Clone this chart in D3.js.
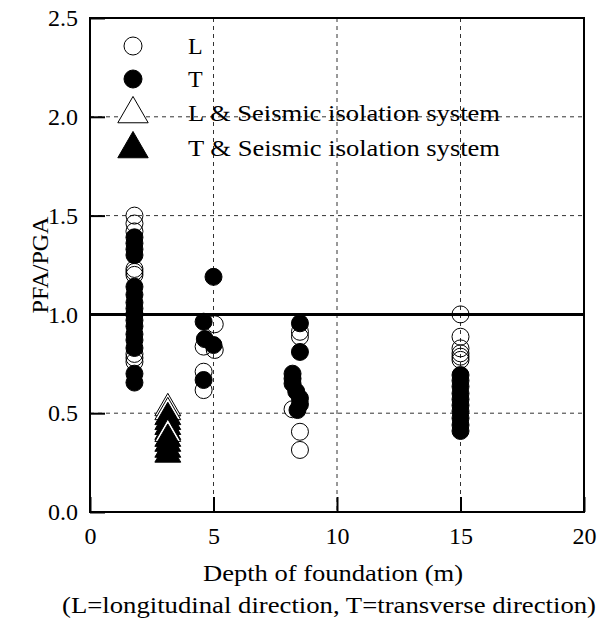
<!DOCTYPE html>
<html>
<head>
<meta charset="utf-8">
<script src="https://cdn.jsdelivr.net/npm/d3@7"></script>
<style>
  html, body { margin: 0; padding: 0; background: #fff; }
  text { font-family: "Liberation Serif", "Times New Roman", serif; fill: #000; }
</style>
</head>
<body>
<svg id="chart" width="600" height="622"></svg>
<script>
// Depth of foundation (m) vs PFA/PGA ratio
const xTicks = [0, 5, 10, 15, 20];
const yTicks = [0.0, 0.5, 1.0, 1.5, 2.0, 2.5];

// L = longitudinal direction (open circles)
const seriesL = [
  [1.8, 1.50], [1.8, 1.46], [1.8, 1.42], [1.8, 1.23], [1.8, 1.215], [1.8, 1.20],
  [1.8, 1.00], [1.8, 0.80], [1.8, 0.78], [1.8, 0.76],
  [5.05, 0.95], [4.6, 0.837], [5.05, 0.82], [4.6, 0.71], [4.6, 0.617],
  [8.5, 0.912], [8.5, 0.887], [8.2, 0.52], [8.5, 0.406], [8.5, 0.314],
  [15.0, 1.00], [15.0, 0.887], [15.0, 0.828], [15.0, 0.803], [15.0, 0.786], [15.0, 0.77]
];
// T = transverse direction (filled circles)
const seriesT = [
  [1.8, 1.39], [1.8, 1.36], [1.8, 1.33], [1.8, 1.30], [1.8, 1.14], [1.8, 1.10],
  [1.8, 1.06], [1.8, 1.03], [1.8, 1.00], [1.8, 0.97], [1.8, 0.94], [1.8, 0.90],
  [1.8, 0.87], [1.8, 0.83], [1.8, 0.70], [1.8, 0.655],
  [5.0, 1.19], [4.6, 0.963], [4.65, 0.875], [5.0, 0.845], [4.6, 0.668],
  [8.5, 0.955], [8.5, 0.81], [8.2, 0.70], [8.2, 0.675], [8.2, 0.65], [8.35, 0.61],
  [8.5, 0.575], [8.5, 0.545], [8.4, 0.516],
  [15.0, 0.693], [15.0, 0.665], [15.0, 0.635], [15.0, 0.60], [15.0, 0.57], [15.0, 0.54],
  [15.0, 0.51], [15.0, 0.475], [15.0, 0.44], [15.0, 0.41]
];
// Seismic isolation system (triangles)
const seriesLIso = [[3.15, 0.525], [3.15, 0.505], [3.15, 0.395]];
const seriesTIso = [[3.15, 0.48], [3.15, 0.455], [3.15, 0.43], [3.15, 0.405],
                    [3.15, 0.37], [3.15, 0.345], [3.15, 0.315], [3.15, 0.29]];

const legendItems = [
  { label: "L", kind: "circle", filled: false },
  { label: "T", kind: "circle", filled: true },
  { label: "L & Seismic isolation system", kind: "triangle", filled: false },
  { label: "T & Seismic isolation system", kind: "triangle", filled: true }
];

const svg = d3.select("#chart");
const m = { left: 90, right: 584, top: 18, bottom: 512 };

const x = d3.scaleLinear().domain([0, 20]).range([m.left, m.right]);
const y = d3.scaleLinear().domain([0, 2.5]).range([m.bottom, m.top]);

// dashed grid
const grid = svg.append("g").attr("stroke", "#333").attr("stroke-width", 1).attr("stroke-dasharray", "4,4");
[5, 10, 15].forEach(v => grid.append("line")
  .attr("x1", x(v)).attr("x2", x(v)).attr("y1", m.top).attr("y2", m.bottom));
[0.5, 1.5, 2.0].forEach(v => grid.append("line")
  .attr("x1", m.left).attr("x2", m.right).attr("y1", y(v)).attr("y2", y(v)));

// reference line at PFA/PGA = 1.0
svg.append("line")
  .attr("x1", m.left).attr("x2", m.right).attr("y1", y(1.0)).attr("y2", y(1.0))
  .attr("stroke", "#000").attr("stroke-width", 3);

// axes with inward ticks
const xAxis = d3.axisBottom(x).tickValues(xTicks).tickSize(-15).tickPadding(17).tickFormat(d3.format("d"));
const yAxis = d3.axisLeft(y).tickValues(yTicks).tickSize(-15).tickPadding(12).tickFormat(d3.format(".1f"));

const gx = svg.append("g").attr("transform", `translate(0,${m.bottom})`).call(xAxis);
const gy = svg.append("g").attr("transform", `translate(${m.left},0)`).call(yAxis);
[gx, gy].forEach(g => {
  g.select(".domain").remove();
  g.selectAll(".tick line").attr("stroke", "#000").attr("stroke-width", 2);
  g.selectAll(".tick text").style("font-family", "Liberation Serif, serif").style("font-size", "24px");
});
gx.selectAll(".tick text").attr("y", 15).attr("dy", "0.71em");

// frame
svg.append("rect")
  .attr("x", m.left).attr("y", m.top)
  .attr("width", m.right - m.left).attr("height", m.bottom - m.top)
  .attr("fill", "none").attr("stroke", "#000").attr("stroke-width", 2);

const r = 8.5;
const tri = d3.symbol().type(d3.symbolTriangle).size(290);

// triangles (isolation system)
const triData = seriesLIso.map(d => ({ d, filled: false }))
  .concat(seriesTIso.map(d => ({ d, filled: true })))
  .sort((a, b) => b.d[1] - a.d[1]);
svg.append("g").selectAll("path").data(triData).join("path")
  .attr("d", tri)
  .attr("transform", p => `translate(${x(p.d[0])},${y(p.d[1])})`)
  .attr("fill", p => p.filled ? "#000" : "#fff")
  .attr("stroke", "#000").attr("stroke-width", 1);

// open circles (L)
svg.append("g").selectAll("circle").data(seriesL).join("circle")
  .attr("cx", d => x(d[0])).attr("cy", d => y(d[1])).attr("r", r)
  .attr("fill", "none").attr("stroke", "#000").attr("stroke-width", 1);

// filled circles (T)
svg.append("g").selectAll("circle").data(seriesT).join("circle")
  .attr("cx", d => x(d[0])).attr("cy", d => y(d[1])).attr("r", r)
  .attr("fill", "#000").attr("stroke", "#000").attr("stroke-width", 1);

// legend
const legendY = [46, 79, 113, 148];
const lg = svg.append("g");
legendItems.forEach((it, i) => {
  const cy = legendY[i];
  if (it.kind === "circle") {
    lg.append("circle").attr("cx", 133).attr("cy", cy).attr("r", 9)
      .attr("fill", it.filled ? "#000" : "#fff").attr("stroke", "#000").attr("stroke-width", 1);
  } else {
    lg.append("path").attr("d", d3.symbol().type(d3.symbolTriangle).size(400)())
      .attr("transform", `translate(133,${cy + 1})`)
      .attr("fill", it.filled ? "#000" : "#fff").attr("stroke", "#000").attr("stroke-width", 1);
  }
  const t = lg.append("text").attr("x", 188).attr("y", cy).attr("dy", "0.35em")
    .style("font-size", "24px").text(it.label);
  if (it.label.length > 2) t.attr("textLength", 312).attr("lengthAdjust", "spacingAndGlyphs");
});

// axis titles
svg.append("text").attr("x", 333).attr("y", 581)
  .attr("text-anchor", "middle").style("font-size", "24px")
  .attr("textLength", 260).attr("lengthAdjust", "spacingAndGlyphs")
  .text("Depth of foundation (m)");
svg.append("text").attr("x", 329).attr("y", 613)
  .attr("text-anchor", "middle").style("font-size", "24px")
  .attr("textLength", 534).attr("lengthAdjust", "spacingAndGlyphs")
  .text("(L=longitudinal direction, T=transverse direction)");
svg.append("text")
  .attr("transform", `translate(48,${(m.top + m.bottom) / 2}) rotate(-90)`)
  .attr("text-anchor", "middle").style("font-size", "24px").text("PFA/PGA");
</script>
</body>
</html>
